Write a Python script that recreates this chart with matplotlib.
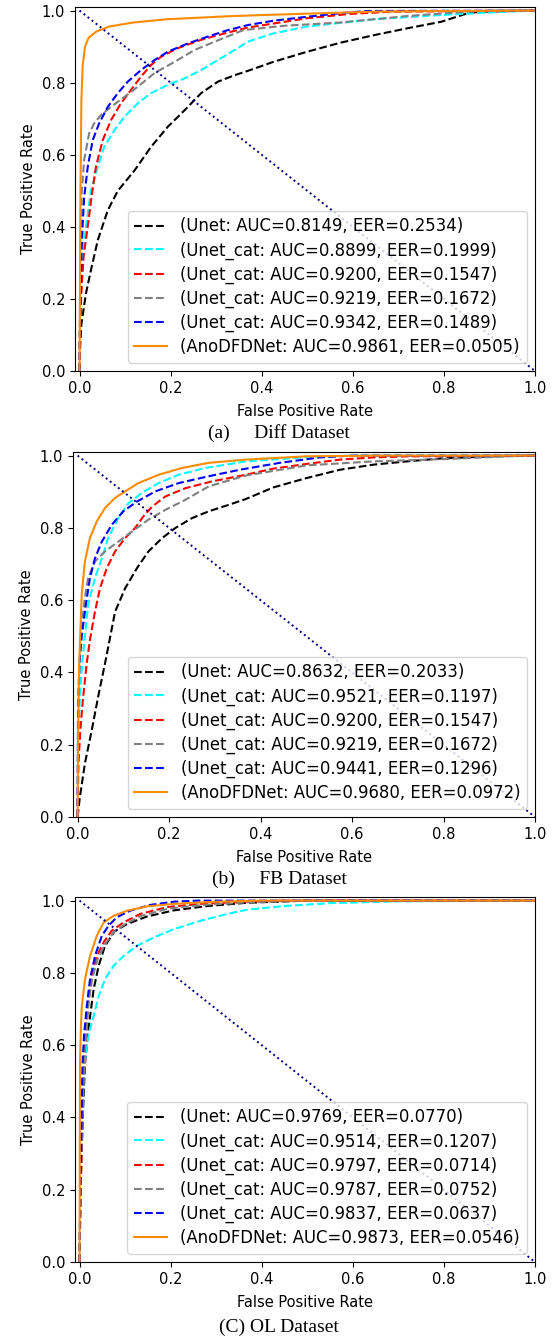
import matplotlib
matplotlib.use("Agg")
import matplotlib.pyplot as plt

# ---- (a) Diff dataset: ROC points ----
a_unet_fpr = [0, 0.001, 0.004, 0.014, 0.025, 0.04, 0.062, 0.084, 0.121, 0.157, 0.194, 0.231, 0.267, 0.304,
              0.341, 0.37, 0.426, 0.5, 0.573, 0.647, 0.72, 0.794, 0.853, 0.882, 1.0]
a_unet_tpr = [0, 0.06, 0.13, 0.215, 0.28, 0.363, 0.446, 0.5, 0.557, 0.622, 0.678, 0.724, 0.771, 0.803,
              0.821, 0.833, 0.858, 0.886, 0.911, 0.932, 0.951, 0.969, 0.993, 0.997, 1.0]
a_cat1_fpr = [0, 0.002, 0.007, 0.015, 0.025, 0.04, 0.054, 0.077, 0.099, 0.128, 0.157, 0.194, 0.231, 0.267,
              0.304, 0.341, 0.37, 0.426, 0.5, 0.647, 0.794, 0.937, 1.0]
a_cat1_tpr = [0, 0.22, 0.32, 0.41, 0.5, 0.567, 0.622, 0.669, 0.706, 0.743, 0.771, 0.794, 0.812, 0.835,
              0.863, 0.891, 0.914, 0.937, 0.956, 0.976, 0.988, 0.997, 1.0]
a_cat2_fpr = [0, 0.001, 0.004, 0.009, 0.019, 0.027, 0.036, 0.051, 0.069, 0.091, 0.113, 0.135, 0.157, 0.179,
              0.216, 0.267, 0.319, 0.37, 0.5, 0.595, 0.684, 1.0]
a_cat2_tpr = [0, 0.13, 0.22, 0.32, 0.41, 0.49, 0.567, 0.641, 0.696, 0.743, 0.78, 0.817, 0.849, 0.872,
              0.896, 0.919, 0.937, 0.953, 0.979, 0.991, 0.997, 1.0]
a_cat3_fpr = [0, 0.001, 0.003, 0.005, 0.01, 0.021, 0.032, 0.047, 0.069, 0.099, 0.128, 0.165, 0.209, 0.253,
              0.297, 0.36, 0.45, 0.573, 0.72, 0.853, 0.9, 1.0]
a_cat3_tpr = [0, 0.2, 0.4, 0.5, 0.585, 0.659, 0.687, 0.71, 0.733, 0.761, 0.789, 0.827, 0.858, 0.891,
              0.914, 0.946, 0.958, 0.967, 0.985, 0.997, 1.0, 1.0]
a_cat4_fpr = [0, 0.001, 0.004, 0.007, 0.01, 0.018, 0.029, 0.043, 0.062, 0.084, 0.106, 0.135, 0.165, 0.194,
              0.238, 0.282, 0.326, 0.37, 0.426, 0.5, 0.573, 0.632, 1.0]
a_cat4_tpr = [0, 0.13, 0.32, 0.41, 0.48, 0.567, 0.641, 0.687, 0.733, 0.771, 0.803, 0.835, 0.863, 0.886,
              0.909, 0.928, 0.946, 0.96, 0.972, 0.983, 0.993, 0.999, 1.0]
a_ano_fpr = [0, 0.002, 0.004, 0.007, 0.012, 0.02, 0.037, 0.066, 0.118, 0.191, 0.338, 0.485, 0.646, 0.8, 1.0]
a_ano_tpr = [0, 0.5, 0.75, 0.85, 0.9, 0.925, 0.942, 0.956, 0.967, 0.976, 0.985, 0.991, 0.997, 0.999, 1.0]
a_labels = ["(Unet: AUC=0.8149, EER=0.2534)", "(Unet_cat: AUC=0.8899, EER=0.1999)",
            "(Unet_cat: AUC=0.9200, EER=0.1547)", "(Unet_cat: AUC=0.9219, EER=0.1672)",
            "(Unet_cat: AUC=0.9342, EER=0.1489)", "(AnoDFDNet: AUC=0.9861, EER=0.0505)"]

# ---- (b) FB dataset ----
b_unet_fpr = [0, 0.005, 0.016, 0.031, 0.045, 0.06, 0.07, 0.082, 0.104, 0.13, 0.155, 0.185, 0.214, 0.25,
              0.287, 0.331, 0.368, 0.428, 0.501, 0.574, 0.647, 0.72, 0.794, 0.904, 1.0]
b_unet_tpr = [0, 0.055, 0.148, 0.24, 0.333, 0.425, 0.49, 0.568, 0.633, 0.689, 0.735, 0.772, 0.8, 0.827,
              0.846, 0.864, 0.88, 0.912, 0.938, 0.961, 0.975, 0.984, 0.992, 0.998, 1.0]
b_cat1_fpr = [0, 0.002, 0.005, 0.01, 0.015, 0.023, 0.038, 0.053, 0.067, 0.089, 0.111, 0.141, 0.177, 0.221,
              0.28, 0.368, 0.5, 0.6, 1.0]
b_cat1_tpr = [0, 0.24, 0.33, 0.425, 0.49, 0.587, 0.661, 0.716, 0.772, 0.827, 0.868, 0.897, 0.924, 0.947,
              0.966, 0.984, 0.996, 1.0, 1.0]
b_cat2_fpr = [0, 0.002, 0.006, 0.012, 0.02, 0.027, 0.038, 0.049, 0.064, 0.082, 0.104, 0.126, 0.144, 0.163,
              0.192, 0.236, 0.295, 0.368, 0.428, 0.501, 0.574, 0.647, 0.72, 1.0]
b_cat2_tpr = [0, 0.15, 0.24, 0.33, 0.425, 0.49, 0.568, 0.633, 0.689, 0.735, 0.772, 0.8, 0.832, 0.859,
              0.887, 0.91, 0.929, 0.947, 0.964, 0.977, 0.989, 0.995, 0.998, 1.0]
b_cat3_fpr = [0, 0.001, 0.002, 0.005, 0.009, 0.015, 0.023, 0.038, 0.06, 0.089, 0.119, 0.155, 0.192, 0.236,
              0.287, 0.368, 0.501, 0.647, 0.794, 0.94, 1.0]
b_cat3_tpr = [0, 0.2, 0.33, 0.45, 0.52, 0.6, 0.661, 0.707, 0.735, 0.762, 0.79, 0.823, 0.85, 0.878,
              0.915, 0.945, 0.973, 0.984, 0.99, 0.998, 1.0]
b_cat4_fpr = [0, 0.001, 0.004, 0.009, 0.018, 0.027, 0.038, 0.053, 0.075, 0.1, 0.13, 0.17, 0.221, 0.287,
              0.355, 0.442, 0.53, 0.6, 1.0]
b_cat4_tpr = [0, 0.28, 0.425, 0.5, 0.587, 0.661, 0.716, 0.762, 0.809, 0.846, 0.873, 0.901, 0.924, 0.943,
              0.961, 0.98, 0.995, 1.0, 1.0]
b_ano_fpr = [0, 0.001, 0.003, 0.005, 0.009, 0.016, 0.027, 0.042, 0.06, 0.082, 0.104, 0.133, 0.177, 0.229,
             0.287, 0.368, 0.5, 0.65, 1.0]
b_ano_tpr = [0, 0.2, 0.4, 0.476, 0.615, 0.707, 0.772, 0.818, 0.855, 0.883, 0.901, 0.924, 0.947, 0.966,
             0.98, 0.989, 0.998, 1.0, 1.0]
b_labels = ["(Unet: AUC=0.8632, EER=0.2033)", "(Unet_cat: AUC=0.9521, EER=0.1197)",
            "(Unet_cat: AUC=0.9200, EER=0.1547)", "(Unet_cat: AUC=0.9219, EER=0.1672)",
            "(Unet_cat: AUC=0.9441, EER=0.1296)", "(AnoDFDNet: AUC=0.9680, EER=0.0972)"]

# ---- (C) OL dataset ----
c_unet_fpr = [0, 0.002, 0.007, 0.012, 0.02, 0.031, 0.042, 0.056, 0.077, 0.104, 0.148, 0.207, 0.28, 0.368, 0.5, 1.0]
c_unet_tpr = [0, 0.2, 0.4, 0.55, 0.65, 0.755, 0.82, 0.875, 0.915, 0.935, 0.956, 0.973, 0.985, 0.994, 1.0, 1.0]
c_cat1_fpr = [0, 0.0013, 0.004, 0.007, 0.011, 0.02, 0.031, 0.042, 0.056, 0.075, 0.097, 0.126, 0.163, 0.207,
              0.265, 0.324, 0.368, 0.45, 0.55, 0.7, 1.0]
c_cat1_tpr = [0, 0.18, 0.366, 0.46, 0.551, 0.63, 0.681, 0.736, 0.783, 0.82, 0.847, 0.875, 0.898, 0.921,
              0.944, 0.963, 0.975, 0.985, 0.993, 0.998, 1.0]
c_cat2_fpr = [0, 0.002, 0.006, 0.009, 0.014, 0.02, 0.027, 0.038, 0.053, 0.071, 0.097, 0.133, 0.192, 0.265, 0.368, 0.45, 1.0]
c_cat2_tpr = [0, 0.18, 0.37, 0.55, 0.64, 0.727, 0.792, 0.847, 0.885, 0.917, 0.94, 0.963, 0.982, 0.991, 0.997, 1.0, 1.0]
c_cat3_fpr = [0, 0.002, 0.006, 0.01, 0.015, 0.02, 0.028, 0.04, 0.056, 0.075, 0.1, 0.136, 0.195, 0.27, 0.37, 0.5, 1.0]
c_cat3_tpr = [0, 0.19, 0.38, 0.55, 0.64, 0.72, 0.785, 0.84, 0.88, 0.912, 0.935, 0.958, 0.978, 0.988, 0.995, 1.0, 1.0]
c_cat4_fpr = [0, 0.0015, 0.004, 0.0066, 0.01, 0.016, 0.023, 0.034, 0.049, 0.064, 0.082, 0.111, 0.155, 0.207, 0.26, 1.0]
c_cat4_tpr = [0, 0.18, 0.366, 0.551, 0.63, 0.709, 0.783, 0.847, 0.903, 0.931, 0.954, 0.972, 0.988, 0.997, 1.0, 1.0]
c_ano_fpr = [0, 0.0005, 0.001, 0.003, 0.005, 0.012, 0.023, 0.038, 0.053, 0.075, 0.104, 0.148, 0.207, 0.302, 0.4, 1.0]
c_ano_tpr = [0, 0.3, 0.55, 0.65, 0.709, 0.783, 0.847, 0.903, 0.94, 0.958, 0.972, 0.984, 0.991, 0.997, 1.0, 1.0]
c_labels = ["(Unet: AUC=0.9769, EER=0.0770)", "(Unet_cat: AUC=0.9514, EER=0.1207)",
            "(Unet_cat: AUC=0.9797, EER=0.0714)", "(Unet_cat: AUC=0.9787, EER=0.0752)",
            "(Unet_cat: AUC=0.9837, EER=0.0637)", "(AnoDFDNet: AUC=0.9873, EER=0.0546)"]

captions = ["(a)     Diff Dataset", "(b)     FB Dataset", "(C) OL Dataset"]
colors = ["black", "cyan", "red", "grey", "blue", "darkorange"]

panels = [
    ([(a_unet_fpr, a_unet_tpr), (a_cat1_fpr, a_cat1_tpr), (a_cat2_fpr, a_cat2_tpr),
      (a_cat3_fpr, a_cat3_tpr), (a_cat4_fpr, a_cat4_tpr), (a_ano_fpr, a_ano_tpr)], a_labels),
    ([(b_unet_fpr, b_unet_tpr), (b_cat1_fpr, b_cat1_tpr), (b_cat2_fpr, b_cat2_tpr),
      (b_cat3_fpr, b_cat3_tpr), (b_cat4_fpr, b_cat4_tpr), (b_ano_fpr, b_ano_tpr)], b_labels),
    ([(c_unet_fpr, c_unet_tpr), (c_cat1_fpr, c_cat1_tpr), (c_cat2_fpr, c_cat2_tpr),
      (c_cat3_fpr, c_cat3_tpr), (c_cat4_fpr, c_cat4_tpr), (c_ano_fpr, c_ano_tpr)], c_labels),
]

W, H = 558, 1340
fig = plt.figure(figsize=(W / 100, H / 100), dpi=100)

# axes boxes in pixels: left, top, right, bottom
boxes = [(75, 7, 535, 371), (73, 452, 535, 817), (75, 897, 535, 1262)]
caption_y = [433, 879, 1327]

for (curves, labels), (l, t, r, b), cap, cy in zip(panels, boxes, captions, caption_y):
    ax = fig.add_axes([l / W, 1 - b / H, (r - l) / W, (b - t) / H])
    for (fpr, tpr), col, lab in zip(curves, colors, labels):
        ls = "-" if col == "darkorange" else "--"
        ax.plot(fpr, tpr, color=col, linestyle=ls, lw=1.5, label=lab)
    ax.plot([0, 1], [1, 0], color="navy", linestyle=":", lw=1.4)
    ax.set_xlim(-0.01, 1.0)
    ax.set_ylim(0.0, 1.01)
    ax.tick_params(labelsize=10.5)
    ax.set_xlabel("False Positive Rate", fontsize=10.5, labelpad=6)
    ax.set_ylabel("True Positive Rate", fontsize=10.5)
    ax.legend(loc="lower right", fontsize=11.9, labelspacing=0.36)
    fig.text(0.5, 1 - cy / H, cap, ha="center", va="center",
             family="Liberation Serif", fontsize=14)

fig.savefig("out.png", dpi=100)
